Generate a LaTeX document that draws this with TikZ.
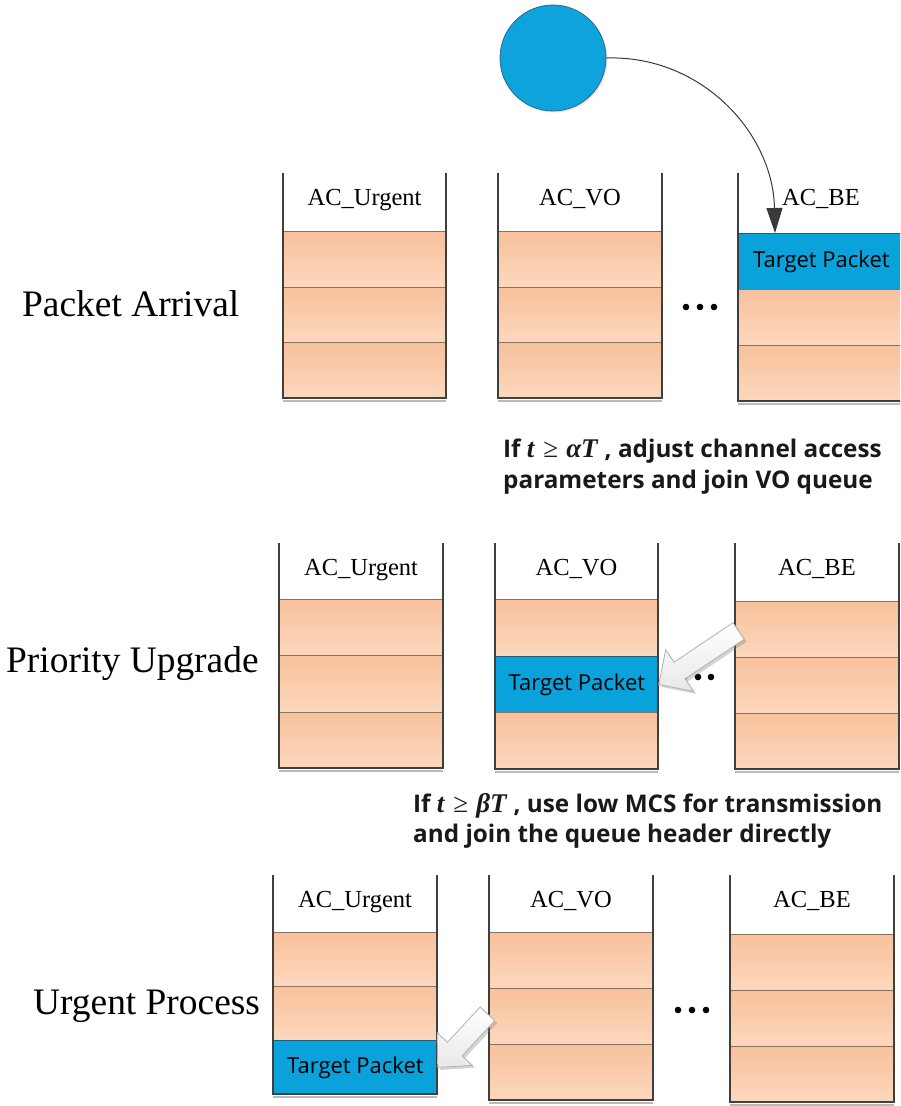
\documentclass[tikz,border=0pt]{standalone}
\usepackage{fontspec}
\setmainfont{Liberation Serif}
\newfontfamily\uisans{Open Sans}
\newfontfamily\condserif{Liberation Serif}
\usetikzlibrary{arrows.meta,shadows,calc}

\definecolor{cellTop}{HTML}{F7C19B}
\definecolor{cellBot}{HTML}{FDD8BE}
\definecolor{cellLine}{HTML}{8A7262}
\definecolor{wallGray}{HTML}{3F3F3F}
\definecolor{pktBlue}{HTML}{0AA2DB}
\definecolor{pktLine}{HTML}{1E5F7E}
\definecolor{srcBlue}{HTML}{0FA3DE}
\definecolor{srcLine}{HTML}{2B6B8A}

\tikzset{
  cellbox/.style={draw=cellLine, line width=0.8pt, top color=cellTop, bottom color=cellBot, inner sep=0pt},
  pktbox/.style={draw=pktLine, line width=0.8pt, fill=pktBlue, inner sep=0pt,
    font=\uisans\fontsize{22}{26}\selectfont, text=black},
  cellkind/.code 2 args={\ifnum#1=#2\relax\pgfkeysalso{pktbox}\else\pgfkeysalso{cellbox}\fi},
  wallline/.style={draw=wallGray, line width=2.6pt},
  wallshade/.style={draw=gray!55, line width=2pt},
  qlabel/.style={font=\fontsize{24.5}{29}\selectfont, anchor=base, inner sep=0pt},
  rowlabel/.style={font=\fontsize{37.4}{44}\selectfont, anchor=base west, inner sep=0pt},
  caption/.style={font=\uisans\bfseries\fontsize{24.3}{30}\selectfont, anchor=base west, inner sep=0pt, text=black!90},
  flow/.style={draw=gray!45!black, line width=1pt, -{Triangle[length=25pt,width=16pt]}},
  blockarrow/.style={draw=gray!60, line width=0.8pt, top color=white, bottom color=gray!18,
    drop shadow={shadow xshift=2.5pt, shadow yshift=-2.5pt, opacity=0.35, fill=gray}},
  dot/.style={fill=black}
}

% bold italic serif condition inside the sans captions: #1 = Greek factor
\newcommand{\cond}[1]{{\condserif\fontsize{27}{30}\selectfont\bfseries\itshape
  t\hspace{9pt}{\upshape\mdseries ≥}\hspace{8pt}#1T\hspace{7pt}}}

% one queue: name, left x, right x, wall top, first cell top, cell height, label, packet cell (0 = none)
\newcommand{\queuestack}[8]{%
  \pgfmathsetmacro\qw{#3-#2}%
  \pgfmathsetmacro\qb{#5+3*#6}%
  \foreach \k in {1,2,3}{%
    \pgfmathsetmacro\qy{#5+(\k-1)*#6}%
    \node[cellkind={\k}{#8}, anchor=north west, minimum width=\qw pt, minimum height=#6 pt]
      (#1\k) at (#2,\qy) {\ifnum\k=#8 Target Packet\fi};
  }%
  \node[qlabel] (#1lbl) at ({(#2+#3)/2},{#4+32}) {#7};
  \draw[wallshade] (#2,\qb+2.8) -- (#3,\qb+2.8);
  \draw[wallline] (#2,#4) -- (#2,\qb) -- (#3,\qb) -- (#3,#4);
}

\begin{document}
\begin{tikzpicture}[x=1pt,y=-1pt]
\useasboundingbox (0,0) rectangle (900,1106);
\clip (0,0) rectangle (900,1106);

% ---------- packet arrival ----------
\node[rowlabel] (lblA) at (22,316) {Packet Arrival};
\queuestack{qAur}{283}{446}{173}{231}{55.7}{AC\_Urgent}{0}
\queuestack{qAvo}{498}{662}{173}{231}{55.7}{AC\_VO}{0}
\queuestack{qAbe}{738}{904}{173}{233}{56}{AC\_BE}{1}
\foreach \dx in {686,700,714} \fill[dot] (\dx,307) circle (3.3);

\node[circle, minimum size=106pt, fill=srcBlue, draw=srcLine, line width=0.8pt,
  drop shadow={shadow xshift=1.5pt, shadow yshift=-1.5pt, opacity=0.2}] (src) at (553,58) {};
\coordinate (drop) at ($(qAbe1.north west)+(37,0)$);
\draw[flow] (src.east) .. controls +(95,-3) and +(-2,-100) .. (drop);

% ---------- priority upgrade ----------
\node[caption] (capA1) at (503,457) {If \cond{α}, adjust channel access};
\node[caption] (capA2) at (503,488) {parameters and join VO queue};

\node[rowlabel] (lblB) at (6,672) {Priority Upgrade};
\queuestack{qBur}{279}{443}{543}{599}{56.3}{AC\_Urgent}{0}
\queuestack{qBvo}{495}{658}{543}{599}{56.7}{AC\_VO}{2}
\queuestack{qBbe}{735}{899}{543}{601}{56}{AC\_BE}{0}
\foreach \dx in {684,698,711} \fill[dot] (\dx,677) circle (3.3);

\begin{scope}[shift={(qBvo2.east)}, rotate=33.85]
  \draw[blockarrow] (0,0) -- (25,25) -- (25,10) -- (96,10) -- (96,-10) -- (25,-10) -- (25,-25) -- cycle;
\end{scope}

% ---------- urgent process ----------
\node[caption] (capB1) at (413,812) {If \cond{β}, use low MCS for transmission};
\node[caption] (capB2) at (413,842) {and join the queue header directly};

\node[rowlabel] (lblC) at (33,1014) {Urgent Process};
\queuestack{qCur}{273}{437}{875}{932}{54}{AC\_Urgent}{3}
\queuestack{qCvo}{489}{653}{875}{932}{56}{AC\_VO}{0}
\queuestack{qCbe}{730}{894}{875}{934}{56}{AC\_BE}{0}
\foreach \dx in {678,692,706} \fill[dot] (\dx,1010) circle (3.3);

\begin{scope}[shift={(qCur3.east)}, rotate=47.2]
  \draw[blockarrow] (0,0) -- (25,24) -- (25,10) -- (73,10) -- (73,-10) -- (25,-10) -- (25,-24) -- cycle;
\end{scope}
\end{tikzpicture}
\end{document}
